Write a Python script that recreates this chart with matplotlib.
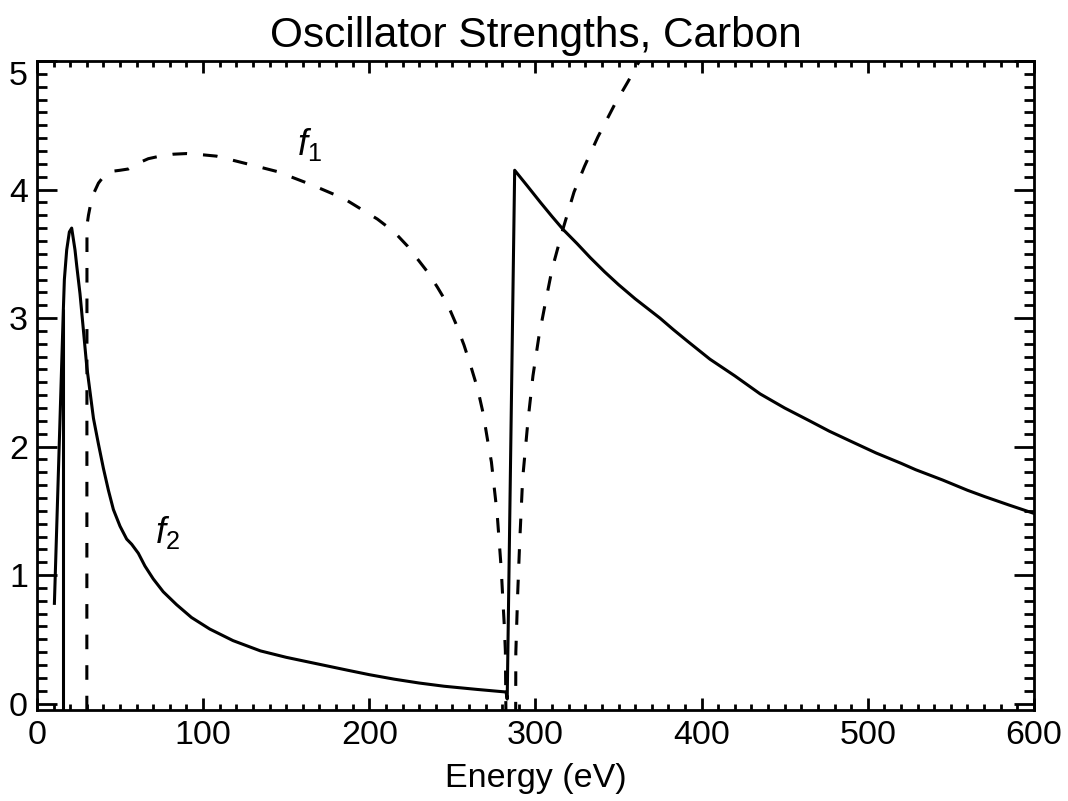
"""Oscillator strengths f1 and f2 of carbon versus photon energy."""
import matplotlib
matplotlib.use('Agg')
import matplotlib.pyplot as plt
from matplotlib.ticker import MultipleLocator

plt.rcParams['font.family'] = ['Liberation Sans', 'DejaVu Sans']
plt.rcParams['mathtext.fontset'] = 'custom'
plt.rcParams['mathtext.rm'] = 'Liberation Sans'
plt.rcParams['mathtext.it'] = 'Liberation Sans:italic'
plt.rcParams['lines.scale_dashes'] = False

# f2 (absorptive part), eV / value
f2_energy = [10.5, 15.9, 16.5, 17.9, 19.5, 20.9, 22.9, 24, 25.9, 28, 30, 32, 34,
             37, 40, 43, 46, 50, 54, 57, 61, 65, 70, 76, 84, 93, 104, 118,
             134.5, 150, 164.7, 186.8, 200, 215, 230, 245, 265, 282.3, 283,
             287.5, 295, 303, 310, 316.6, 325, 333, 341.6, 350, 360, 374.9,
             383, 391.5, 405, 420, 435.2, 450, 465, 476.8, 490, 505, 520,
             528.8, 545, 560, 570.5, 585, 600]
f2_value = [0.78, 3.07, 3.3, 3.53, 3.67, 3.70, 3.53, 3.4, 3.19, 2.9, 2.62, 2.42, 2.22,
            2.02, 1.83, 1.66, 1.51, 1.38, 1.28, 1.24, 1.17, 1.07, 0.97, 0.87, 0.77,
            0.67, 0.58, 0.49, 0.41, 0.36, 0.32, 0.26, 0.225, 0.19, 0.16, 0.135,
            0.11, 0.09, 0.035, 4.15, 4.03, 3.9, 3.79, 3.69, 3.58, 3.47, 3.36,
            3.26, 3.15, 3.0, 2.91, 2.82, 2.68, 2.55, 2.41, 2.30, 2.20, 2.12,
            2.04, 1.95, 1.87, 1.82, 1.74, 1.66, 1.61, 1.545, 1.48]

# start of the valence absorption (solid riser)
f2_onset_energy = 15.9
f2_onset_value = 3.07

# f1 (dispersive part); values below zero fall outside the plot
f1_energy = [30, 30.1, 31, 32.5, 34.5, 37, 40, 44, 50, 55, 60, 67, 74, 82, 90,
             100, 108, 126.5, 144.6, 164.7, 184.7, 204.9, 215, 223, 229, 235,
             241, 247, 252, 257, 261, 265.2, 268.5, 271.2, 273.5, 275.2, 277,
             278.2, 279.4, 280.3, 281.2, 281.9, 282.6,
             288.0, 288.2, 289.3, 290.5, 292.3, 295.5, 298.5, 302, 306, 310,
             316.5, 323.2, 329.5, 337.6, 347.6, 355.7, 361.7, 370]
f1_value = [-1.0, 3.72, 3.8, 3.9, 3.98, 4.05, 4.1, 4.14, 4.15, 4.16, 4.2, 4.24,
            4.26, 4.275, 4.28, 4.27, 4.26, 4.2, 4.14, 4.04, 3.93, 3.77, 3.67,
            3.56, 3.46, 3.36, 3.24, 3.11, 2.96, 2.79, 2.63, 2.45, 2.26, 2.05,
            1.88, 1.68, 1.47, 1.26, 1.05, 0.83, 0.62, 0.41, -0.6,
            -0.6, 0.4, 0.85, 1.25, 1.75, 2.2, 2.55, 2.85, 3.12, 3.38,
            3.69, 3.98, 4.18, 4.41, 4.66, 4.84, 4.98, 5.15]

y_ticks = [0, 1, 2, 3, 4, 5]

fig = plt.figure(figsize=(10.68, 8.01), dpi=100)
ax = fig.add_axes([0.0346, 0.1136, 0.9335, 0.8102])

lw = 2.2
ax.plot(f2_energy, f2_value, color='black', lw=lw, solid_joinstyle='round')
ax.vlines(f2_onset_energy, -0.05, f2_onset_value, color='black', lw=lw)
ax.plot(f1_energy, f1_value, color='black', lw=lw, dashes=(10.5, 11.5))

ax.text(156.8, 4.27, r'$f_1$', fontsize=26, ha='left', va='baseline')
ax.text(71.2, 1.25, r'$f_2$', fontsize=26, ha='left', va='baseline')

ax.set_xlim(0, 600)
ax.set_ylim(-0.05, 5.0)
ax.xaxis.set_major_locator(MultipleLocator(100))
ax.xaxis.set_minor_locator(MultipleLocator(10))
ax.set_yticks(y_ticks)
ax.yaxis.set_minor_locator(MultipleLocator(0.1))

ax.tick_params(which='both', direction='in', top=True, right=True,
               width=2.0, color='black', labelsize=24.5)
ax.tick_params(axis='x', which='major', length=8.6, pad=7)
ax.tick_params(axis='x', which='minor', length=4.0)
ax.tick_params(axis='y', which='major', length=14.4, pad=6.5)
ax.tick_params(axis='y', which='minor', length=7.2)
for side in ax.spines.values():
    side.set_linewidth(2.0)

ax.set_xlabel('Energy (eV)', fontsize=24.5, labelpad=9)
ax.set_title('Oscillator Strengths, Carbon', fontsize=30.5, pad=10)

# top y label hangs below the frame corner
top_tick = ax.yaxis.get_major_ticks(len(y_ticks))[y_ticks.index(max(y_ticks))]
top_tick.label1.set_verticalalignment('top')

fig.savefig('out.png', dpi=100, facecolor='white')
plt.close(fig)
print("OK: out.png")
